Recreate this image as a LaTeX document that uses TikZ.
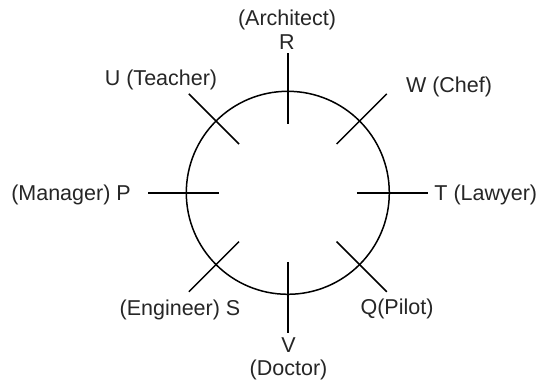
\documentclass[tikz,border=0pt]{standalone}
\usepackage{fontspec}
\setmainfont{Liberation Sans}
\usetikzlibrary{calc}
\begin{document}
\begin{tikzpicture}[x=1pt,y=-1pt,
  spoke/.style={line width=1.5pt,black},
  ring/.style={line width=1.5pt,black},
  lbl/.style={inner sep=0pt,font=\fontsize{21.5}{26}\selectfont,text=black!85}]
\useasboundingbox (0,0) rectangle (540,385);
\fill[white] (0,0) rectangle (540,385);
\coordinate (c) at (287.8,192.8);
\draw[ring] (c) circle[radius=101.5];
% spokes (screen angles: y points down)
\foreach \n/\a in {R/270,W/315,T/0,Q/45,V/90,S/135,P/180,U/225}{
  \coordinate (\n in) at ($(c)+(\a:69)$);
  \coordinate (\n out) at ($(c)+(\a:140)$);
  \draw[spoke] (\n in) -- (\n out);
}
\node[lbl] (arch) at (287,20) {(Architect)};
\node[lbl] (R) at (287,42.5) {R};
\node[lbl] (U) at (161,80) {U (Teacher)};
\node[lbl] (W) at (449,86.5) {W (Chef)};
\node[lbl] (P) at (71,195) {(Manager) P};
\node[lbl] (T) at (485.8,195) {T (Lawyer)};
\node[lbl] (S) at (180,309.5) {(Engineer) S};
\node[lbl] (Q) at (397,308.5) {Q(Pilot)};
\node[lbl] (V) at (288.5,345) {V};
\node[lbl] (doc) at (288.5,370) {(Doctor)};
\end{tikzpicture}
\end{document}
